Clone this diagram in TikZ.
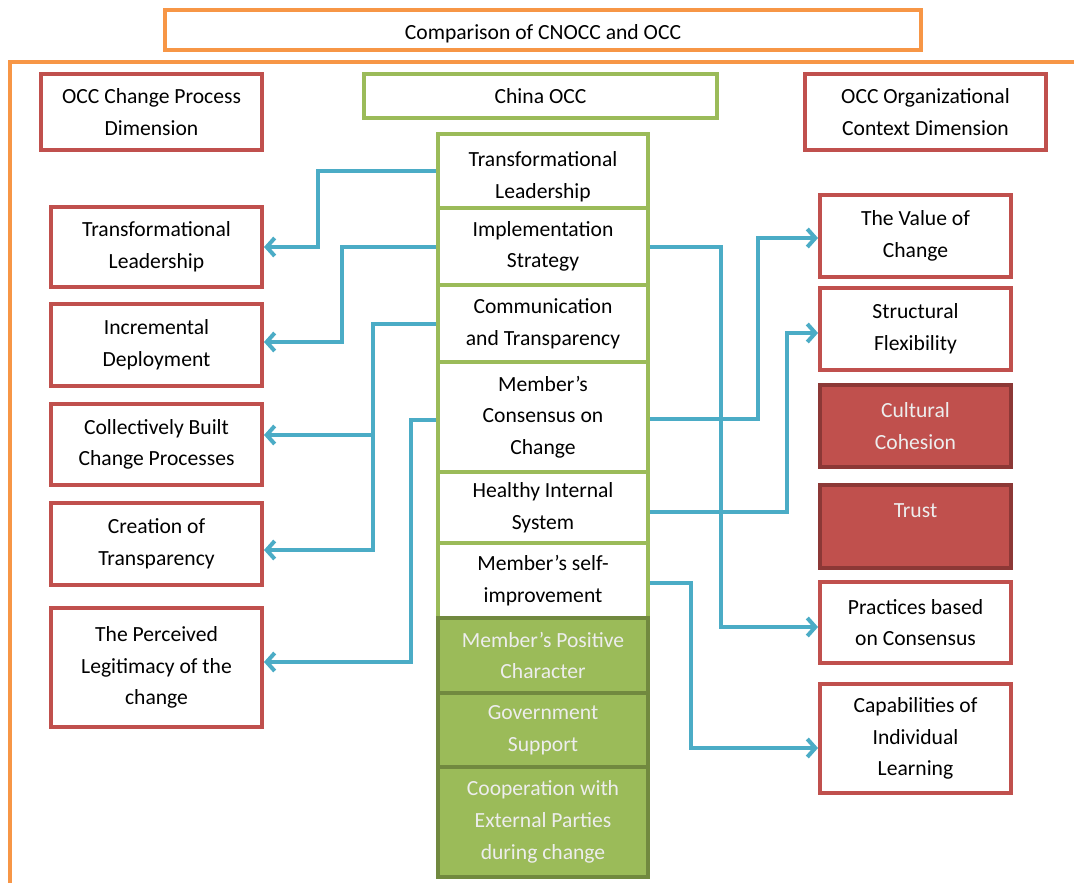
\documentclass[tikz,border=0pt]{standalone}
\usepackage{fontspec}
\setmainfont{Carlito}
\usetikzlibrary{arrows.meta}
\definecolor{oOrange}{HTML}{F79646}
\definecolor{oRed}{HTML}{C0504D}
\definecolor{oRedDark}{HTML}{8C3836}
\definecolor{oGreen}{HTML}{9BBB59}
\definecolor{oGreenDark}{HTML}{71893F}
\definecolor{oBlue}{HTML}{4BACC6}
\begin{document}
\begin{tikzpicture}[x=1pt,y=-1pt,
  every node/.style={font=\fontsize{21.6}{31.7}\selectfont, align=center, inner sep=0pt},
  orangebox/.style={draw=oOrange, line width=4pt, fill=white},
  redbox/.style={draw=oRed, line width=4pt, fill=white},
  greenbox/.style={draw=oGreen, line width=4pt, fill=white},
  redfill/.style={draw=oRedDark, line width=4pt, fill=oRed, text=white!93!black},
  greenfill/.style={draw=oGreenDark, line width=4pt, fill=oGreen, text=white!93!black},
  frame/.style={draw=oOrange, line width=4pt},
  conn/.style={draw=oBlue, line width=4pt, -{Straight Barb[length=8pt,width=18pt]}},
  lw/.style={minimum width=211pt},
  cw/.style={minimum width=210pt},
  rw/.style={minimum width=191pt}]
\useasboundingbox (0,0) rectangle (1074,883);
\fill[white] (0,0) rectangle (1074,883);

% outer frame and title
\draw[frame] (1074,62) -- (10,62) -- (10,883);
\node[orangebox, minimum width=756pt, minimum height=40pt, text depth=0pt] (title) at (543,30) {\raisebox{-4pt}{Comparison of CNOCC and OCC}};

% headings
\node[redbox, minimum width=221pt, minimum height=76pt] (lHead) at (151.5,112) {OCC Change Process\\Dimension};
\node[greenbox, minimum width=353pt, minimum height=44pt] (cHead) at (540.5,96) {China OCC};
\node[redbox, minimum width=241pt, minimum height=76pt] (rHead) at (925.5,112) {OCC Organizational\\Context Dimension};

% left column
\node[redbox, lw, minimum height=80pt] (lTL) at (156.5,247) {Transformational\\Leadership};
\node[redbox, lw, minimum height=82pt] (lID) at (156.5,345) {Incremental\\Deployment};
\node[redbox, lw, minimum height=81pt] (lCB) at (156.5,444.5) {Collectively Built\\Change Processes};
\node[redbox, lw, minimum height=82pt] (lCr) at (156.5,544) {Creation of\\Transparency};
\node[redbox, lw, minimum height=119pt] (lPL) at (156.5,667.5) {The Perceived\\Legitimacy of the\\change};

% center column
\node[greenbox, cw, minimum height=74pt] (cTL) at (543,171) {};
\node (cTLtext) at ([yshift=-6pt]cTL.center) {Transformational\\Leadership};
\node[greenbox, cw, minimum height=77pt] (cIS) at (543,246.5) {Implementation\\Strategy};
\node[greenbox, cw, minimum height=77pt] (cCT) at (543,323.5) {Communication\\and Transparency};
\node[greenbox, cw, minimum height=110pt] (cMC) at (543,417) {Member’s\\Consensus on\\Change};
\node[greenbox, cw, minimum height=71pt] (cHS) at (543,507.5) {Healthy Internal\\System};
\node[greenbox, cw, minimum height=75pt] (cMS) at (543,580.5) {Member’s self-\\improvement};
\node[greenfill, cw, minimum height=75pt] (cPC) at (543,655.5) {Member’s Positive\\Character};
\node[greenfill, cw, minimum height=74pt] (cGS) at (543,730) {Government\\Support};
\node[greenfill, cw, minimum height=110pt] (cCo) at (543,822) {Cooperation with\\External Parties\\during change};

% right column
\node[redbox, rw, minimum height=82pt] (rVC) at (915.5,236) {The Value of\\Change};
\node[redbox, rw, minimum height=82pt] (rSF) at (915.5,329) {Structural\\Flexibility};
\node[redfill, rw, minimum height=82pt] (rCC) at (915.5,426) {Cultural\\Cohesion};
\node[redfill, rw, minimum height=83pt] (rTr) at (915.5,526.5) {Trust\\~};
\node[redbox, rw, minimum height=81pt] (rPC) at (915.5,622.5) {Practices based\\on Consensus};
\node[redbox, rw, minimum height=109pt] (rCI) at (915.5,738.5) {Capabilities of\\Individual\\Learning};

% connectors, left side
\draw[conn] (cTL.west) -- ++(-118,0) |- (lTL.east);
\draw[conn] (cIS.west) -- ++(-94,0) |- ([yshift=3pt]lID.east);
\draw[conn] (cCT.west) -- ++(-63,0) coordinate (j3) |- ([yshift=-6pt]lCr.east);
\path ([yshift=9.5pt]lCB.east) coordinate (a3);
\draw[conn] (a3 -| j3) -- (a3);
\draw[conn] ([yshift=-3pt]cMC.west) -- ++(-25,0) |- ([yshift=5.5pt]lPL.east);

% connectors, right side
\draw[conn] ([yshift=-2pt]cMC.east) -- ++(108,0) |- ([yshift=-2pt]rVC.west);
\draw[conn] ([yshift=-4.5pt]cHS.east) -- ++(137,0) |- ([yshift=-4pt]rSF.west);
\draw[conn] (cIS.east) -- ++(71,0) |- ([yshift=-4.5pt]rPC.west);
\draw[conn] ([yshift=-2.5pt]cMS.east) -- ++(41,0) |- ([yshift=-9.5pt]rCI.west);
\end{tikzpicture}
\end{document}
